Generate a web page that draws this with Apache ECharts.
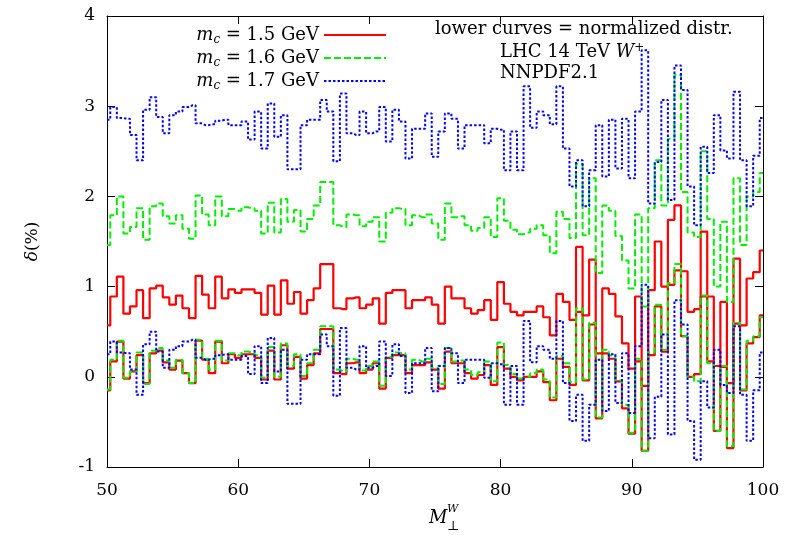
<!DOCTYPE html>
<html>
<head>
<meta charset="utf-8">
<script src="https://cdn.jsdelivr.net/npm/echarts@6/dist/echarts.min.js"></script>
<style>
html,body{margin:0;padding:0;background:#fff;}
#chart{width:794px;height:542px;}
</style>
</head>
<body>
<div id="chart"></div>
<script>
// bin centres (GeV)
var massBins = [50,50.5,51,51.5,52,52.5,53,53.5,54,54.5,55,55.5,56,56.5,57,57.5,58,58.5,59,59.5,
  60,60.5,61,61.5,62,62.5,63,63.5,64,64.5,65,65.5,66,66.5,67,67.5,68,68.5,69,69.5,
  70,70.5,71,71.5,72,72.5,73,73.5,74,74.5,75,75.5,76,76.5,77,77.5,78,78.5,79,79.5,
  80,80.5,81,81.5,82,82.5,83,83.5,84,84.5,85,85.5,86,86.5,87,87.5,88,88.5,89,89.5,
  90,90.5,91,91.5,92,92.5,93,93.5,94,94.5,95,95.5,96,96.5,97,97.5,98,98.5,99,99.5,100];

var red15 = [0.57,0.89,1.11,0.70,0.78,0.96,0.65,0.98,1.01,0.88,0.80,0.90,0.76,0.65,1.12,0.91,0.76,1.11,0.87,0.97,
  0.93,0.97,0.97,0.93,0.69,1.01,0.69,1.07,0.81,0.94,0.70,0.85,0.98,1.25,1.25,0.76,0.75,0.87,0.88,0.76,
  0.80,0.87,0.59,0.93,0.96,0.96,0.76,0.85,0.85,0.88,0.80,0.59,1.00,0.87,0.87,0.76,0.70,0.74,0.85,0.63,
  1.05,0.81,0.72,0.68,0.72,0.72,0.78,0.66,0.46,0.92,0.83,0.63,1.44,0.68,1.30,0.26,0.98,0.92,0.67,0.37,
  0.09,0.89,-0.10,0.96,1.50,1.00,1.74,1.90,1.17,0.72,0.75,1.61,0.89,0.12,0.83,-0.07,1.31,0.57,1.09,1.16,1.40];
var red15Norm = [-0.15,0.17,0.39,-0.02,0.06,0.24,-0.07,0.26,0.29,0.16,0.08,0.18,0.04,-0.07,0.40,0.19,0.04,0.39,0.15,0.25,
  0.21,0.25,0.25,0.21,-0.03,0.29,-0.03,0.35,0.09,0.22,-0.02,0.13,0.26,0.53,0.53,0.04,0.03,0.15,0.16,0.04,
  0.08,0.15,-0.13,0.21,0.24,0.24,0.04,0.13,0.13,0.16,0.08,-0.13,0.28,0.15,0.15,0.04,-0.02,0.02,0.13,-0.09,
  0.33,0.09,0.00,-0.04,0.00,0.00,0.06,-0.06,-0.26,0.20,0.11,-0.09,0.72,-0.04,0.58,-0.46,0.26,0.20,-0.05,-0.35,
  -0.63,0.17,-0.82,0.24,0.78,0.28,1.02,1.18,0.45,0.00,0.03,0.89,0.17,-0.60,0.11,-0.79,0.59,-0.15,0.37,0.44,0.68];

var green16 = [1.46,1.79,2.00,1.59,1.66,1.87,1.52,1.89,1.92,1.78,1.70,1.79,1.64,1.53,2.01,1.80,1.68,2.00,1.78,1.86,
  1.84,1.88,1.87,1.84,1.59,1.93,1.60,1.97,1.72,1.85,1.61,1.75,1.90,2.16,2.16,1.68,1.66,1.80,1.79,1.67,
  1.72,1.77,1.50,1.82,1.87,1.86,1.68,1.79,1.77,1.80,1.70,1.52,1.92,1.77,1.78,1.68,1.62,1.65,1.77,1.55,
  1.98,1.73,1.63,1.58,1.60,1.64,1.68,1.57,1.37,1.83,1.75,1.54,2.36,1.57,2.20,1.15,1.90,1.84,1.56,1.29,
  0.98,1.80,0.78,1.87,2.40,1.90,2.64,3.35,2.05,1.60,1.55,2.50,1.75,1.00,1.72,0.83,2.20,1.46,2.00,2.05,2.26];
var green16Norm = [-0.14,0.19,0.40,-0.01,0.06,0.27,-0.08,0.29,0.32,0.18,0.10,0.19,0.04,-0.07,0.41,0.20,0.08,0.40,0.18,0.26,
  0.24,0.28,0.27,0.24,-0.01,0.33,0.00,0.37,0.12,0.25,0.01,0.15,0.30,0.56,0.56,0.08,0.06,0.20,0.19,0.07,
  0.12,0.17,-0.10,0.22,0.27,0.26,0.08,0.19,0.17,0.20,0.10,-0.08,0.32,0.17,0.18,0.08,0.02,0.05,0.17,-0.05,
  0.38,0.13,0.03,-0.02,0.00,0.04,0.08,-0.03,-0.23,0.23,0.15,-0.06,0.76,-0.03,0.60,-0.45,0.30,0.24,-0.04,-0.31,
  -0.62,0.20,-0.82,0.27,0.80,0.30,1.04,1.25,0.45,0.00,-0.05,0.90,0.15,-0.60,0.12,-0.77,0.60,-0.14,0.40,0.45,0.66];

var blue17 = [2.85,2.99,2.87,2.86,2.68,2.40,2.96,3.10,2.88,2.70,2.90,2.94,2.99,3.01,2.81,2.79,2.80,2.84,2.85,2.79,
  2.79,2.83,2.63,2.94,2.53,3.03,2.66,2.90,2.30,2.30,2.79,2.85,2.85,3.07,2.94,2.39,3.14,2.70,2.68,2.94,
  2.70,2.72,2.99,2.61,2.96,2.83,2.42,2.75,2.75,2.92,2.44,2.72,2.92,2.86,2.53,2.79,2.79,2.79,2.59,2.75,
  2.74,2.29,2.72,2.29,3.22,2.76,2.94,2.90,2.80,3.22,2.53,2.11,2.40,1.89,2.29,2.79,2.22,2.85,2.31,2.86,
  2.20,2.94,3.62,1.92,2.38,3.07,1.96,3.45,3.18,2.11,1.68,2.55,2.26,2.90,2.51,2.42,3.16,2.40,1.89,2.45,2.87];
var blue17Norm = [0.25,0.39,0.27,0.26,0.08,-0.20,0.36,0.50,0.28,0.10,0.30,0.34,0.39,0.41,0.21,0.19,0.20,0.24,0.25,0.19,
  0.19,0.23,0.03,0.34,-0.07,0.43,0.06,0.30,-0.30,-0.30,0.19,0.25,0.25,0.47,0.34,-0.21,0.54,0.10,0.08,0.34,
  0.10,0.12,0.39,0.01,0.36,0.23,-0.18,0.15,0.15,0.32,-0.16,0.12,0.32,0.26,-0.07,0.19,0.19,0.19,-0.01,0.15,
  0.14,-0.31,0.12,-0.31,0.62,0.16,0.34,0.30,0.20,0.62,-0.07,-0.49,-0.20,-0.71,-0.31,0.19,-0.38,0.25,-0.29,0.26,
  -0.40,0.34,1.02,-0.68,-0.22,0.47,-0.64,0.85,0.58,-0.49,-0.92,-0.05,-0.34,0.30,-0.09,-0.18,0.56,-0.20,-0.71,-0.15,0.27];

var xTicks = [50,60,70,80,90,100];
var yTicks = [-1,0,1,2,3,4];
var seriesNames = ['m_c = 1.5 GeV','m_c = 1.6 GeV','m_c = 1.7 GeV'];

function pairs(vals){ return massBins.map(function(x,i){ return [x, vals[i]]; }); }

var FONT = 'DejaVu Serif';
var FS = 17;
var chart = echarts.init(document.getElementById('chart'), null, {renderer:'canvas'});

function mkSeries(name, vals, color, type, width){
  return {
    name: name, type:'line', step:'middle', data: pairs(vals),
    showSymbol:false, symbol:'none', animation:false, silent:true,
    lineStyle:{color:color, width:width, type:type},
    itemStyle:{color:color}
  };
}

var baseAxisX = {
  type:'value', min:xTicks[0], max:xTicks[xTicks.length-1], interval:10,
  axisLine:{show:true, onZero:false, lineStyle:{color:'#000', width:1}},
  axisTick:{show:true, inside:true, length:8, lineStyle:{color:'#000'}},
  splitLine:{show:false}
};
var baseAxisY = {
  type:'value', min:yTicks[0], max:yTicks[yTicks.length-1], interval:1,
  axisLine:{show:true, onZero:false, lineStyle:{color:'#000', width:1}},
  axisTick:{show:true, inside:true, length:8, lineStyle:{color:'#000'}},
  splitLine:{show:false}
};

var option = {
  backgroundColor:'#fff',
  animation:false,
  grid:{left:107, right:31, top:16, bottom:75},
  xAxis:[
    Object.assign({}, baseAxisX, {position:'bottom',
      axisLabel:{show:true, margin:15, color:'#000', fontFamily:FONT, fontSize:FS}}),
    Object.assign({}, baseAxisX, {position:'top', axisLabel:{show:false}})
  ],
  yAxis:[
    Object.assign({}, baseAxisY, {position:'left',
      axisLabel:{show:true, margin:12, color:'#000', fontFamily:FONT, fontSize:FS}},
      {name:'{d|δ}(%)', nameLocation:'middle', nameGap:66, nameRotate:90,
      nameTextStyle:{color:'#000', fontFamily:FONT, fontSize:FS, rich:{d:{fontStyle:'italic', fontFamily:FONT, fontSize:FS, color:'#000'}}}}),
    Object.assign({}, baseAxisY, {position:'right', axisLabel:{show:false}})
  ],
  legend:{
    show:true, data:seriesNames, orient:'vertical', align:'right',
    right:402, top:19, itemWidth:62, itemHeight:12, itemGap:1,
    selectedMode:false,
    itemStyle:{opacity:0},
    formatter:function(n){ return '{i|m}{s|c}' + n.replace('m_c','') ; },
    textStyle:{color:'#000', fontFamily:FONT, fontSize:18, lineHeight:22,
      rich:{i:{fontStyle:'italic', fontFamily:FONT, fontSize:18, color:'#000'},
            s:{fontStyle:'italic', fontFamily:FONT, fontSize:12, color:'#000', verticalAlign:'bottom', padding:[8,0,0,0]}}}
  },
  graphic:[
    {type:'text', left:435, top:20, style:{text:'lower curves = normalized distr.', fill:'#000', font:'18px "DejaVu Serif"'}},
    {type:'text', left:500, top:42, style:{text:'{a|LHC 14 TeV }{w|W}{p|+}', fill:'#000', font:'18px "DejaVu Serif"',
      rich:{a:{fontFamily:FONT, fontSize:18, fill:'#000'}, w:{fontFamily:FONT, fontSize:18, fontStyle:'italic', fill:'#000'},
            p:{fontFamily:FONT, fontSize:12, fill:'#000', verticalAlign:'top', padding:[0,0,8,0]}}}},
    {type:'text', left:500, top:64, style:{text:'NNPDF2.1', fill:'#000', font:'18px "DejaVu Serif"'}},
    {type:'text', left:429, top:509, style:{text:'M', fill:'#000', font:'italic 18px "DejaVu Serif"'}},
    {type:'text', left:447, top:504, style:{text:'W', fill:'#000', font:'italic 11px "DejaVu Serif"'}},
    {type:'text', left:447, top:520, style:{text:'⊥', fill:'#000', font:'13px "DejaVu Serif"'}}
  ],
  series:[
    mkSeries(seriesNames[0], red15, '#ff0000', 'solid', 2.2),
    mkSeries(seriesNames[0], red15Norm, '#ff0000', 'solid', 2.2),
    mkSeries(seriesNames[1], green16, '#00ee00', [7,3], 2),
    mkSeries(seriesNames[1], green16Norm, '#00ee00', [7,3], 2),
    mkSeries(seriesNames[2], blue17, '#0000ff', [2.5,2], 2),
    mkSeries(seriesNames[2], blue17Norm, '#0000ff', [2.5,2], 2)
  ]
};
chart.setOption(option);
</script>
</body>
</html>
